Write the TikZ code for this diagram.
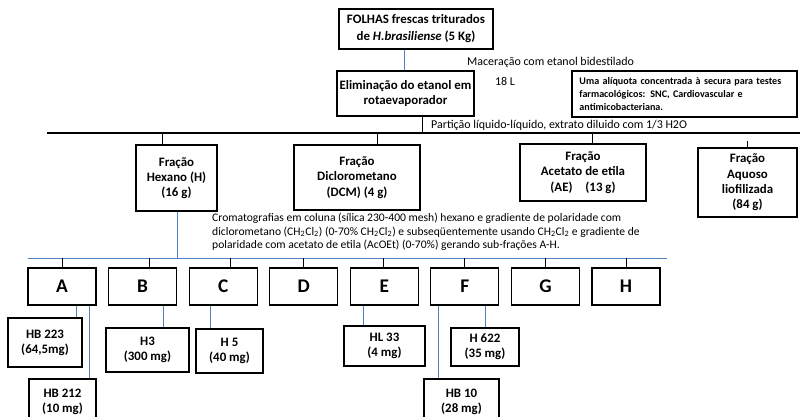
\documentclass[tikz,border=0pt]{standalone}
\usepackage{fontspec}
\setmainfont{Carlito}
\usetikzlibrary{positioning,calc}
\definecolor{flowblue}{HTML}{4F81BD}
\newcommand{\dcmf}{CH\textsubscript{2}Cl\textsubscript{2}}

\begin{document}
\begin{tikzpicture}[x=0.03cm,y=-0.03cm,font=\fontsize{10.2}{12}\selectfont,
  bx/.style={draw, line width=0.9pt, fill=white, align=center, inner sep=1pt,
    font=\fontsize{11}{13}\selectfont\bfseries},
  fr/.style={bx, minimum width=2.04cm, minimum height=1.11cm, font=\fontsize{16.5}{18}\selectfont\bfseries},
  bl/.style={draw=flowblue, line width=0.8pt},
  tk/.style={draw, line width=0.7pt}]
\useasboundingbox (0,0) rectangle (800,417);
\clip (0,0) rectangle (800,417);

\node[bx,minimum width=4.62cm,minimum height=1.2cm,font=\fontsize{11}{14.5}\selectfont\bfseries](folhas) at (416,29){FOLHAS frescas triturados\\de \textit{H.brasiliense} (5 Kg)};
\node[bx,minimum width=4.11cm,minimum height=1.35cm](elim) at (405.5,93.5){Eliminação do etanol em\\rotaevaporador};
\node[bx,minimum width=6.75cm,minimum height=1.38cm,align=left,text width=6.3cm,font=\fontsize{8.6}{11.5}\selectfont\bfseries](aliq) at (684.5,94){Uma alíquota concentrada à secura para testes\\farmacológicos: SNC, Cardiovascular e\\antimicobacteriana.};

\node[anchor=west,inner sep=0](mac) at (467,62){Maceração com etanol bidestilado};
\node[inner sep=0](vol) at (505,81){18 L};
\node[anchor=west,inner sep=0](part) at (431,125){Partição líquido-líquido, extrato diluido com 1/3 H2O};

\node[bx,minimum width=2.43cm,minimum height=1.98cm](hex) at (176.5,178){Fração\\Hexano (H)\\(16 g)};
\node[bx,minimum width=3.78cm,minimum height=1.95cm](dcm) at (357,177.5){Fração\\Diclorometano\\(DCM) (4 g)};
\node[bx,minimum width=3.78cm,minimum height=1.71cm](ae) at (583,172.5){Fração\\Acetato de etila\\(AE)\quad(13 g)};
\node[bx,minimum width=2.97cm,minimum height=2.07cm](aq) at (747.5,182.5){Fração\\Aquoso\\liofilizada\\(84 g)};

\node[anchor=north west,inner sep=0,align=left,font=\fontsize{9.9}{11.5}\selectfont](crom) at (212,213){Cromatografias em coluna (sílica 230-400 mesh) hexano e gradiente de polaridade com\\diclorometano (\dcmf) (0-70\% \dcmf) e subseqüentemente usando \dcmf{} e gradiente de\\polaridade com acetato de etila (AcOEt) (0-70\%) gerando sub-frações A-H.};

\foreach \l [count=\i from 0] in {A,B,C,D,E,F,G,H}
  \node[fr](\l) at ({62+80.57*\i},286.5){\l};

\node[bx,minimum width=2.22cm,minimum height=1.47cm](hb223) at (45,342.5){HB 223\\(64,5mg)};
\node[bx,minimum width=2.01cm,minimum height=1.38cm](hb212) at (62.5,402){HB 212\\(10 mg)};
\node[bx,minimum width=2.49cm,minimum height=1.32cm](h3) at (147.5,350){H3\\(300 mg)};
\node[bx,minimum width=2.01cm,minimum height=1.32cm](h5) at (229.5,351){H 5\\(40 mg)};
\node[bx,minimum width=2.43cm,minimum height=1.2cm](hl33) at (384.5,346){HL 33\\(4 mg)};
\node[bx,minimum width=2.04cm,minimum height=1.14cm](h622) at (485,347){H 622\\(35 mg)};
\node[bx,minimum width=2.25cm,minimum height=1.38cm](hb10) at (461.5,402){HB 10\\(28 mg)};

\coordinate (pl) at (47,133);
\coordinate (pr) at (800,133);
\coordinate (bl) at (28,258);
\coordinate (br) at (667,258);

\draw[bl](folhas.south -| 404,0)--(elim.north -| 404,0);
\draw[tk,line width=1pt](pl)--(pr);
\draw[tk](elim.south -| 422,0)--(pl -| 422,0);
\foreach \n/\x in {hex/162,dcm/377,ae/592}
  \draw[tk](pl -| \x,0)--(\n.north -| \x,0);
\draw[tk](aq.north)--++(0,-6);

\draw[bl](bl)--(br);
\draw[bl](hex.south -| 177,0)--(bl -| 177,0);
\foreach \l/\x in {A/62,B/149,C/230,D/303,E/383,F/464,G/545,H/626}
  \draw[tk](bl -| \x,0)--(\l.north -| \x,0);
\foreach \a/\b/\x in {A/hb223/76,A/hb212/89,B/h3/163,C/h5/210,E/hl33/363,F/h622/485,F/hb10/438}
  \draw[bl](\a.south -| \x,0)--(\b.north -| \x,0);

\end{tikzpicture}
\end{document}
